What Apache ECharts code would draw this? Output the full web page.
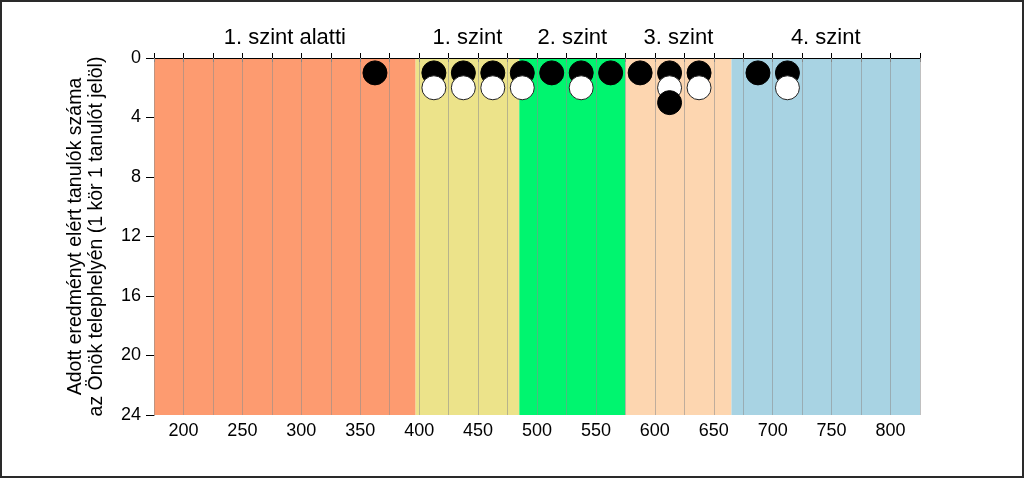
<!DOCTYPE html>
<html>
<head>
<meta charset="utf-8">
<script src="https://cdn.jsdelivr.net/npm/echarts/dist/echarts.min.js"></script>
<style>
html, body { margin: 0; padding: 0; background: #fff; }
#frame { width: 1024px; height: 478px; box-sizing: border-box; border: 2px solid #2a2a2a; position: relative; }
#chart { position: absolute; left: -2px; top: -2px; width: 1024px; height: 478px; }
</style>
</head>
<body>
<div id="frame"><div id="chart"></div></div>
<script>
// szint sávok (pontszám határok)
var bandNames = ['1. szint alatti', '1. szint', '2. szint', '3. szint', '4. szint'];
var bandStart = [175, 397, 485, 575, 665];
var bandEnd = [397, 485, 575, 665, 825];
var bandColors = ['#fd9b70', '#ece38a', '#00f56f', '#fdd6b0', '#a8d3e3'];

// tanulók: fekete körök
var darkScores = [362.5, 412.5, 437.5, 462.5, 487.5, 512.5, 537.5, 562.5, 587.5, 612.5, 637.5, 687.5, 712.5, 612.5];
var darkRows = [1, 1, 1, 1, 1, 1, 1, 1, 1, 1, 1, 1, 1, 3];
// tanulók: fehér körök
var lightScores = [412.5, 437.5, 462.5, 487.5, 537.5, 612.5, 637.5, 712.5];
var lightRows = [2, 2, 2, 2, 2, 2, 2, 2];

var font = '"Liberation Sans", Arial, sans-serif';

// pontok sorrendben (alsó sor kerül felülre)
var points = [];
darkScores.forEach(function (s, i) {
    points.push({ value: [s, darkRows[i]], itemStyle: { color: '#000', borderColor: '#000' } });
});
lightScores.forEach(function (s, i) {
    points.push({ value: [s, lightRows[i]], itemStyle: { color: '#fff', borderColor: '#222' } });
});
points.sort(function (a, b) { return a.value[1] - b.value[1]; });

var bandData = bandNames.map(function (n, i) {
    return [bandStart[i], bandEnd[i], i];
});

var chart = echarts.init(document.getElementById('chart'));
chart.setOption({
    animation: false,
    backgroundColor: 'transparent',
    grid: { left: 154, right: 104, top: 58, bottom: 63 },
    xAxis: [{
        type: 'value', min: 175, max: 825, interval: 25, z: 2,
        axisLine: { show: true, lineStyle: { color: '#777', width: 1 } },
        axisTick: { show: true, length: 4, lineStyle: { color: '#888' } },
        axisLabel: {
            color: '#000', fontSize: 18, fontFamily: font, margin: 7,
            formatter: function (v) { return v % 50 === 0 ? v : ''; }
        },
        splitLine: { show: true, lineStyle: { color: 'rgba(140,140,140,0.55)', width: 1 } }
    }, {
        type: 'value', position: 'top', min: 175, max: 825, interval: 25, z: 2,
        axisLine: { show: true, lineStyle: { color: '#000', width: 1 } },
        axisTick: { show: true, length: 5, lineStyle: { color: '#000' } },
        axisLabel: { show: false },
        splitLine: { show: false }
    }],
    yAxis: {
        type: 'value', inverse: true, min: 0, max: 24, interval: 4,
        axisLine: { show: true, lineStyle: { color: '#000' } },
        axisTick: { show: true, length: 8, lineStyle: { color: '#000' } },
        axisLabel: { color: '#000', fontSize: 18, fontFamily: font, margin: 13 },
        splitLine: { show: false },
        name: 'Adott eredményt elért tanulók száma\naz Önök telephelyén (1 kör 1 tanulót jelöl)',
        nameLocation: 'middle', nameRotate: 90, nameGap: 47,
        nameTextStyle: { color: '#000', fontSize: 19.5, fontFamily: font, lineHeight: 21 }
    },
    series: [{
        type: 'custom', z: 1, silent: true,
        data: bandData,
        encode: { x: [0, 1] },
        renderItem: function (params, api) {
            var s = api.value(0), e = api.value(1), k = api.value(2);
            var p1 = api.coord([s, 0]);
            var p2 = api.coord([e, 24]);
            var mid = api.coord([(s + e) / 2, 0]);
            return {
                type: 'group',
                children: [{
                    type: 'rect',
                    shape: { x: p1[0], y: p1[1], width: p2[0] - p1[0], height: p2[1] - p1[1] },
                    style: { fill: bandColors[k] }
                }, {
                    type: 'text',
                    x: mid[0], y: mid[1] - 20,
                    style: {
                        text: bandNames[k], fill: '#000', font: '22px ' + font,
                        textAlign: 'center', textVerticalAlign: 'middle'
                    }
                }]
            };
        }
    }, {
        type: 'scatter', z: 3,
        symbol: 'circle', symbolSize: 24,
        itemStyle: { borderWidth: 1, opacity: 1 },
        data: points
    }]
});
</script>
</body>
</html>
